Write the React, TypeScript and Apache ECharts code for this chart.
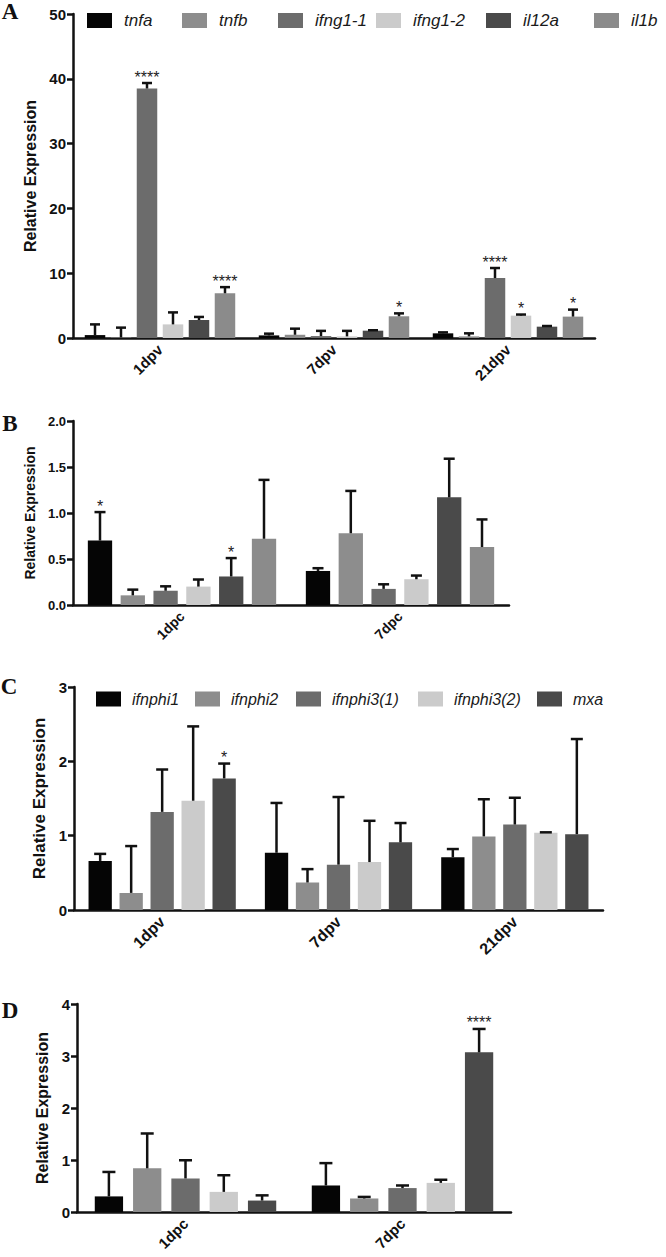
import React, { useEffect, useRef } from 'react';
import * as echarts from 'echarts';

// ---------- Panel A ----------
const A_CATS = ['1dpv', '7dpv', '21dpv'];
const A_GENES = ['tnfa', 'tnfb', 'ifng1-1', 'ifng1-2', 'il12a', 'il1b'];
const A_MEAN = [
  [0.45, 0.4, 0.72],
  [0.08, 0.5, 0.25],
  [38.5, 0.3, 9.25],
  [2.1, 0.25, 3.45],
  [2.78, 1.13, 1.75],
  [6.9, 3.35, 3.3],
];
const A_ERR = [
  [1.65, 0.27, 0.15],
  [1.52, 0.94, 0.47],
  [0.85, 0.8, 1.55],
  [1.85, 0.85, 0.17],
  [0.47, 0.07, 0.1],
  [0.95, 0.45, 1.08],
];
const A_SIG = [
  ['', '', ''],
  ['', '', ''],
  ['****', '', '****'],
  ['', '', '*'],
  ['', '', ''],
  ['****', '*', '*'],
];

// ---------- Panel B ----------
const B_CATS = ['1dpc', '7dpc'];
const B_MEAN = [
  [0.7, 0.37],
  [0.105, 0.78],
  [0.155, 0.175],
  [0.2, 0.28],
  [0.31, 1.17],
  [0.72, 0.63],
];
const B_ERR = [
  [0.31, 0.03],
  [0.062, 0.46],
  [0.048, 0.05],
  [0.077, 0.04],
  [0.2, 0.42],
  [0.64, 0.3],
];
const B_SIG = [
  ['*', ''],
  ['', ''],
  ['', ''],
  ['', ''],
  ['*', ''],
  ['', ''],
];

// ---------- Panel C ----------
const C_CATS = ['1dpv', '7dpv', '21dpv'];
const C_GENES = ['ifnphi1', 'ifnphi2', 'ifnphi3(1)', 'ifnphi3(2)', 'mxa'];
const C_MEAN = [
  [0.66, 0.77, 0.71],
  [0.23, 0.37, 0.99],
  [1.32, 0.61, 1.15],
  [1.47, 0.645, 1.04],
  [1.77, 0.91, 1.02],
];
const C_ERR = [
  [0.095, 0.67, 0.11],
  [0.63, 0.18, 0.5],
  [0.57, 0.91, 0.36],
  [1.0, 0.555, 0.005],
  [0.2, 0.26, 1.28],
];
const C_SIG = [
  ['', '', ''],
  ['', '', ''],
  ['', '', ''],
  ['', '', ''],
  ['*', '', ''],
];

// ---------- Panel D ----------
const D_CATS = ['1dpc', '7dpc'];
const D_MEAN = [
  [0.3, 0.51],
  [0.84, 0.26],
  [0.645, 0.46],
  [0.387, 0.56],
  [0.22, 3.07],
];
const D_ERR = [
  [0.47, 0.43],
  [0.67, 0.03],
  [0.35, 0.05],
  [0.32, 0.06],
  [0.1, 0.45],
];
const D_SIG = [
  ['', ''],
  ['', ''],
  ['', ''],
  ['', ''],
  ['', '****'],
];

const COLORS_6 = ['#050505', '#8d8d8d', '#6c6c6c', '#cbcbcb', '#4a4a4a', '#8b8b8b'];
const COLORS_5 = ['#050505', '#8d8d8d', '#6c6c6c', '#cbcbcb', '#4a4a4a'];

const FONT = '"Liberation Sans", Arial, sans-serif';
const SERIF = '"Liberation Serif", "Times New Roman", serif';
const INK = '#111';

type PanelCfg = {
  grid: { left: number; top: number; width: number; height: number };
  cats: string[];
  genes: string[];
  mean: number[][];
  err: number[][];
  sig: string[][];
  colors: string[];
  yMax: number;
  yInterval: number;
  yFmt: (v: number) => string;
  barW: number;
  pitch: number;
  cap: number;
  yFont: number;
  xFont: number;
  nameFont: number;
  nameGap: number;
};

const PANELS: PanelCfg[] = [
  {
    grid: { left: 73, top: 14, width: 522, height: 324 },
    cats: A_CATS, genes: A_GENES, mean: A_MEAN, err: A_ERR, sig: A_SIG, colors: COLORS_6,
    yMax: 50, yInterval: 10, yFmt: (v) => String(v),
    barW: 20.5, pitch: 26, cap: 10, yFont: 15, xFont: 15, nameFont: 16, nameGap: 31,
  },
  {
    grid: { left: 73, top: 421, width: 436, height: 184 },
    cats: B_CATS, genes: A_GENES, mean: B_MEAN, err: B_ERR, sig: B_SIG, colors: COLORS_6,
    yMax: 2, yInterval: 0.5, yFmt: (v) => v.toFixed(1),
    barW: 24.3, pitch: 32.8, cap: 11, yFont: 13, xFont: 14, nameFont: 14, nameGap: 31,
  },
  {
    grid: { left: 74, top: 687, width: 529, height: 223 },
    cats: C_CATS, genes: C_GENES, mean: C_MEAN, err: C_ERR, sig: C_SIG, colors: COLORS_5,
    yMax: 3, yInterval: 1, yFmt: (v) => String(v),
    barW: 23.3, pitch: 31, cap: 12, yFont: 15, xFont: 16, nameFont: 17, nameGap: 24,
  },
  {
    grid: { left: 77, top: 1004, width: 434, height: 208 },
    cats: D_CATS, genes: C_GENES, mean: D_MEAN, err: D_ERR, sig: D_SIG, colors: COLORS_5,
    yMax: 4, yInterval: 1, yFmt: (v) => String(v),
    barW: 28.3, pitch: 38.3, cap: 13, yFont: 15, xFont: 15, nameFont: 16, nameGap: 25,
  },
];

const LEGEND_A_LEFT = [87, 182, 278, 376, 486, 594];
const LEGEND_C_LEFT = [96, 195, 296, 418, 537];

function buildOption() {
  const grids: any[] = [];
  const xAxes: any[] = [];
  const yAxes: any[] = [];
  const series: any[] = [];

  PANELS.forEach((p, gi) => {
    grids.push({ ...p.grid, containLabel: false });
    xAxes.push({
      type: 'category',
      gridIndex: gi,
      data: p.cats,
      axisLine: { lineStyle: { color: INK, width: 2.5 } },
      axisTick: { alignWithLabel: true, length: 7, lineStyle: { color: INK, width: 2.5 } },
      axisLabel: {
        rotate: 45, margin: 9, color: INK, fontFamily: FONT, fontWeight: 'bold', fontSize: p.xFont,
      },
      splitLine: { show: false },
    });
    yAxes.push({
      type: 'value',
      gridIndex: gi,
      min: 0,
      max: p.yMax,
      interval: p.yInterval,
      name: 'Relative Expression',
      nameLocation: 'middle',
      nameGap: p.nameGap,
      nameTextStyle: { color: INK, fontFamily: FONT, fontWeight: 'bold', fontSize: p.nameFont },
      axisLine: { show: true, lineStyle: { color: INK, width: 2.5 } },
      axisTick: { show: true, length: 6, lineStyle: { color: INK, width: 2.5 } },
      axisLabel: {
        margin: 7, color: INK, fontFamily: FONT, fontWeight: 'bold', fontSize: p.yFont,
        formatter: (v: number) => p.yFmt(v),
      },
      splitLine: { show: false },
    });

    const n = p.genes.length;
    const gapPct = ((p.pitch / p.barW - 1) * 100).toFixed(1) + '%';
    p.genes.forEach((g, si) => {
      series.push({
        type: 'bar',
        name: g,
        xAxisIndex: gi,
        yAxisIndex: gi,
        data: p.mean[si],
        barWidth: p.barW,
        barGap: gapPct,
        itemStyle: { color: p.colors[si] },
        z: 2,
      });
    });
    p.genes.forEach((g, si) => {
      const sigs = p.sig[si];
      series.push({
        type: 'custom',
        name: g + ' error',
        xAxisIndex: gi,
        yAxisIndex: gi,
        z: 3,
        data: p.mean[si].map((m, i) => [i, m, m + p.err[si][i]]),
        renderItem: (params: any, api: any) => {
          const c = api.value(0);
          const m = api.value(1);
          const t = api.value(2);
          const p0 = api.coord([c, m]);
          const p1 = api.coord([c, t]);
          const x = p0[0] + (si - (n - 1) / 2) * p.pitch;
          const children: any[] = [
            { type: 'line', shape: { x1: x, y1: p0[1], x2: x, y2: p1[1] }, style: { stroke: INK, lineWidth: 2.5 } },
            { type: 'line', shape: { x1: x - p.cap / 2, y1: p1[1], x2: x + p.cap / 2, y2: p1[1] }, style: { stroke: INK, lineWidth: 2.5 } },
          ];
          const s = sigs[params.dataIndex];
          if (s) {
            children.push({
              type: 'text',
              style: {
                text: s, x, y: p1[1] + 2, textAlign: 'center', textVerticalAlign: 'bottom',
                fontSize: 16, fontFamily: FONT, fill: '#222',
              },
            });
          }
          return { type: 'group', children };
        },
      });
    });
  });

  const legendBase = {
    icon: 'rect', itemWidth: 25, itemHeight: 15, padding: 0, selectedMode: false,
    textStyle: { fontStyle: 'italic', fontSize: 17, fontFamily: FONT, color: '#1a1a1a', padding: [0, 0, 0, 7] },
  };
  const legends: any[] = [];
  A_GENES.forEach((g, i) => legends.push({ ...legendBase, data: [g], left: LEGEND_A_LEFT[i], top: 12 }));
  C_GENES.forEach((g, i) =>
    legends.push({
      ...legendBase,
      data: [g],
      left: LEGEND_C_LEFT[i],
      top: 691,
      textStyle: { ...legendBase.textStyle, fontSize: 16, padding: [0, 0, 0, 6] },
    })
  );

  const letters = [
    { t: 'A', x: 10, y: 11 },
    { t: 'B', x: 10, y: 423 },
    { t: 'C', x: 9, y: 686 },
    { t: 'D', x: 10, y: 1010 },
  ];

  return {
    animation: false,
    backgroundColor: '#ffffff',
    grid: grids,
    xAxis: xAxes,
    yAxis: yAxes,
    legend: legends,
    series,
    graphic: letters.map((l) => ({
      type: 'text',
      x: l.x,
      y: l.y,
      style: {
        text: l.t, fontFamily: SERIF, fontWeight: 'bold', fontSize: 23, fill: '#111',
        textAlign: 'center', textVerticalAlign: 'middle',
      },
    })),
  };
}

export default function App() {
  const ref = useRef<HTMLDivElement>(null);
  useEffect(() => {
    if (!ref.current) return;
    const chart = echarts.init(ref.current, undefined, { renderer: 'svg' });
    chart.setOption(buildOption() as any);
    return () => chart.dispose();
  }, []);
  return (
    <div
      ref={ref}
      style={{ position: 'absolute', left: 0, top: 0, width: 666, height: 1257, background: '#fff' }}
    />
  );
}
